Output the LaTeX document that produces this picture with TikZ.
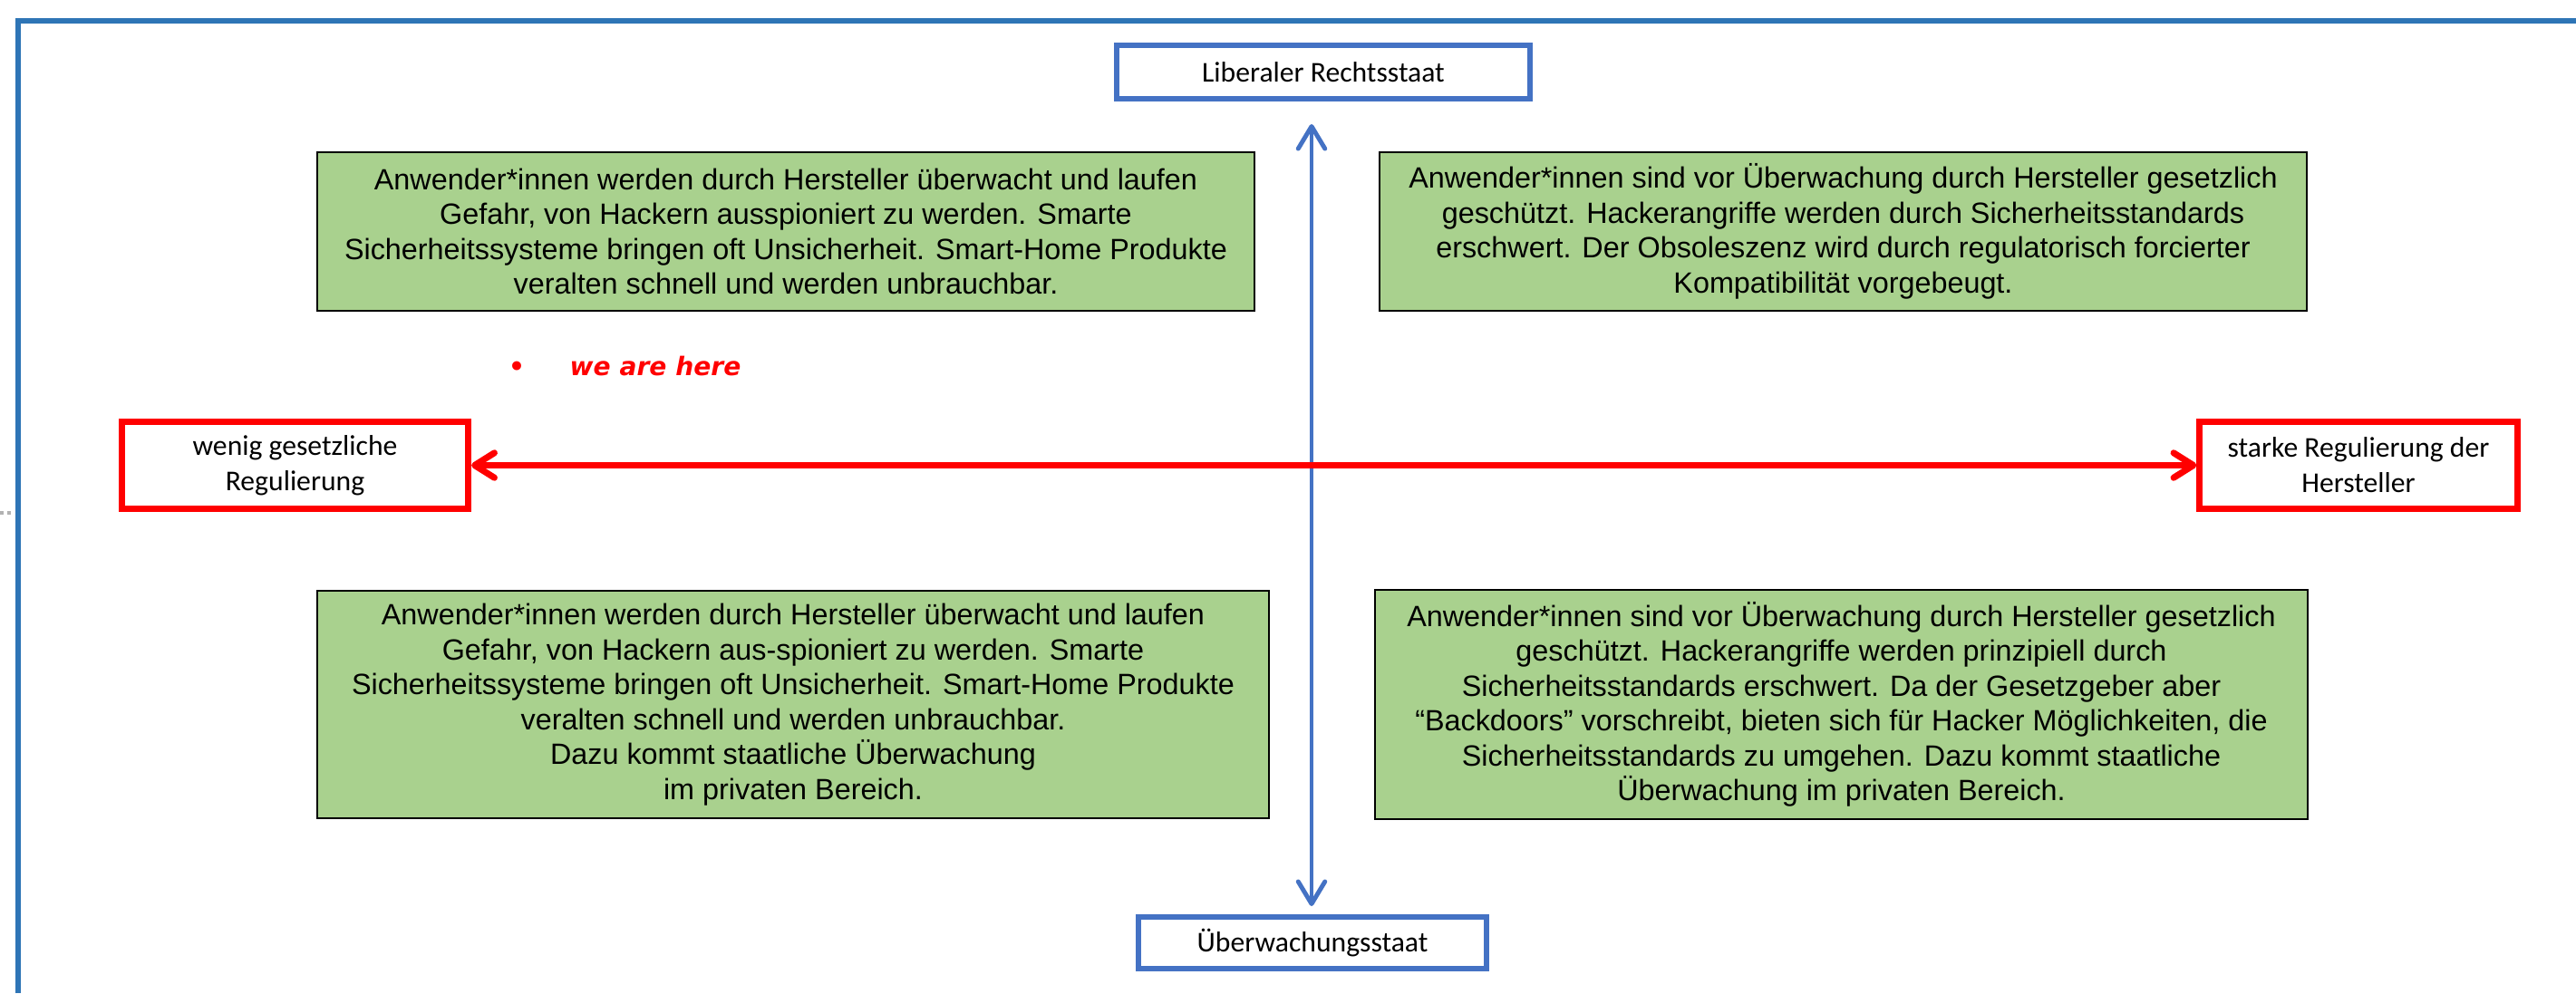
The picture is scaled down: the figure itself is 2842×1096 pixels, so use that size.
\documentclass[tikz,border=0pt]{standalone}
\usepackage{fontspec}
\setmainfont{Liberation Sans}
\newfontfamily\lblfont{Carlito}
\newfontfamily\herefont{DejaVu Sans}
\usetikzlibrary{arrows.meta}
\definecolor{framecol}{HTML}{2E75B6}
\definecolor{bluecol}{HTML}{4472C4}
\definecolor{redcol}{HTML}{FF0000}
\definecolor{greencol}{HTML}{A9D18E}
\tikzset{
  bluebox/.style={draw=bluecol, line width=1.7pt, fill=white, inner sep=0pt, align=center,
    font=\lblfont\fontsize{9}{11}\selectfont},
  redbox/.style={draw=redcol, line width=2pt, fill=white, inner sep=0pt, align=center,
    font=\lblfont\fontsize{9}{11.1}\selectfont},
  greenbox/.style={draw=black, line width=0.6pt, fill=greencol, inner sep=0pt, align=center,
    font=\fontsize{9.2}{10.95}\selectfont},
  bluearrow/.style={draw=bluecol, line width=1.4pt, <->,
    >={Straight Barb[length=7pt,width=8.4pt,round]}},
  redarrow/.style={draw=redcol, line width=2pt, <->,
    >={Straight Barb[length=6.2pt,width=7.8pt,round]}},
  herestyle/.style={text=redcol, inner sep=0pt, font=\herefont\bfseries\itshape\fontsize{8}{10}\selectfont},
}
\begin{document}
\begin{tikzpicture}[x=0.01cm, y=-0.01cm]
\useasboundingbox (0,0) rectangle (2842,1096);
% outer frame
\draw[framecol, line width=1.7pt] (20,1096) -- (20,23) -- (2842,23);
\draw[gray!60, line width=1.3pt, dash pattern=on 1.1pt off 1.1pt] (0,566) -- (13,566);

% axis boxes
\node[bluebox, minimum width=4.56cm, minimum height=0.59cm] (lib) at (1460,79.5) {Liberaler Rechtsstaat};
\node[bluebox, minimum width=3.84cm, minimum height=0.57cm] (ueb) at (1448,1040.5) {Überwachungsstaat};
\node[redbox, minimum width=3.82cm, minimum height=0.96cm] (wen) at (325.5,513.5) {wenig gesetzliche\\Regulierung};
\node[redbox, minimum width=3.50cm, minimum height=0.96cm] (sta) at (2602,513.5) {starke Regulierung der\\Hersteller};

% quadrant boxes
\node[greenbox, minimum width=10.34cm, minimum height=1.75cm] (tl) at (867,255.5)
 {Anwender*innen werden durch Hersteller überwacht und laufen\\
  Gefahr, von Hackern ausspioniert zu werden. Smarte\\
  Sicherheitssysteme bringen oft Unsicherheit. Smart-Home Produkte\\
  veralten schnell und werden unbrauchbar.};
\node[greenbox, minimum width=10.23cm, minimum height=1.75cm] (tr) at (2033.5,255.5)
 {Anwender*innen sind vor Überwachung durch Hersteller gesetzlich\\
  geschützt. Hackerangriffe werden durch Sicherheitsstandards\\
  erschwert. Der Obsoleszenz wird durch regulatorisch forcierter\\
  Kompatibilität vorgebeugt.};
\node[greenbox, minimum width=10.50cm, minimum height=2.51cm] (bl) at (875,777.5)
 {Anwender*innen werden durch Hersteller überwacht und laufen\\
  Gefahr, von Hackern aus-spioniert zu werden. Smarte\\
  Sicherheitssysteme bringen oft Unsicherheit. Smart-Home Produkte\\
  veralten schnell und werden unbrauchbar.\\
  Dazu kommt staatliche Überwachung\\
  im privaten Bereich.};
\node[greenbox, minimum width=10.29cm, minimum height=2.53cm] (br) at (2031.5,777.5)
 {Anwender*innen sind vor Überwachung durch Hersteller gesetzlich\\
  geschützt. Hackerangriffe werden prinzipiell durch\\
  Sicherheitsstandards erschwert. Da der Gesetzgeber aber\\
  “Backdoors” vorschreibt, bieten sich für Hacker Möglichkeiten, die\\
  Sicherheitsstandards zu umgehen. Dazu kommt staatliche\\
  Überwachung im privaten Bereich.};

% we are here
\node[herestyle, anchor=base] (bul) at (570,414) {•};
\node[herestyle, anchor=base west] (here) at (628,414) {we are here};

% axes
\coordinate (vtop) at (1447,137);
\coordinate (vbot) at (1447,1000);
\draw[bluearrow] (vtop) -- (vbot);
\draw[redarrow] (wen.east) -- (sta.west);
\end{tikzpicture}
\end{document}
